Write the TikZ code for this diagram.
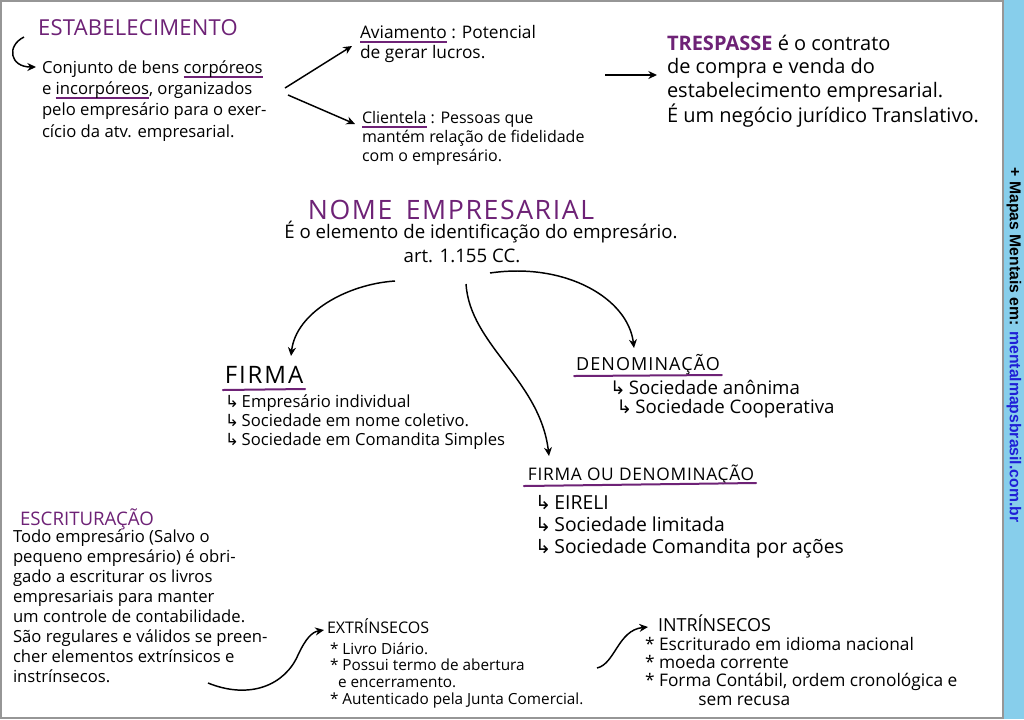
\documentclass[tikz,border=0pt]{standalone}
\usepackage{fontspec}
\setmainfont{Open Sans}
\newfontfamily\symf{DejaVu Sans}
\newfontfamily\sidef{Liberation Sans}
\usetikzlibrary{arrows.meta,calc}
\definecolor{purp}{RGB}{110,34,118}
\definecolor{strip}{RGB}{135,206,235}
\definecolor{linkblue}{RGB}{30,30,215}
\definecolor{frame}{RGB}{150,150,150}
\newsavebox\pulbox
\newcommand\pul[1]{\sbox\pulbox{#1}\rlap{\textcolor{purp}{\rule[-3.5pt]{\wd\pulbox}{1.4pt}}}\usebox\pulbox}
\newcommand\arr{{\symf ↳}\,}
\newcommand\fs[2]{\fontsize{#1}{#2}\selectfont}
\begin{document}
\begin{tikzpicture}[x=0.75pt,y=-0.75pt,
  every node/.style={inner sep=0pt, outer sep=0pt},
  ttl/.style={text=purp, anchor=base},
  head/.style={text=black, anchor=base},
  body/.style={align=left, anchor=base west},
  conn/.style={draw=black, line width=1.1pt, -{Stealth[length=6.5pt,width=6pt]}},
  ul/.style={draw=purp, line width=1.5pt, line cap=round},
]
\useasboundingbox (0,0) rectangle (1024,719);
\fill[white] (0,0) rectangle (1024,719);
\fill[strip] (1004,0) rectangle (1024,719);
\draw[frame, line width=1.5pt] (1003,0) -- (1003,719);
\draw[frame, line width=1.5pt] (0,1) -- (1003,1);
\draw[frame, line width=1.5pt] (1,0) -- (1,719);
\draw[frame, line width=1.5pt] (0,718) -- (1003,718);

\node[rotate=-90, font=\sidef\bfseries\fs{11.8}{14}] (side) at (1014,345)
  {+ Mapas Mentais em: \textcolor{linkblue}{mentalmapsbrasil.com.br}};

% ESTABELECIMENTO (multi-line nodes are anchored at the baseline of their last line)
\node[ttl, font={\fs{16.5}{20}\addfontfeatures{LetterSpace=1}}] (estab) at (138,35) {ESTABELECIMENTO};
\node[body, font=\fs{12.5}{16}] (estabtxt) at (42,137)
  {Conjunto de bens \pul{corpóreos}\\ e \pul{incorpóreos}, organizados\\pelo empresário para o exer-\\ cício da atv. empresarial.};
\coordinate (e0) at (24,37);
\draw[conn] (e0) .. controls (6,46) and (10,67) .. ($(estabtxt.base west)+(-6,-70)$);

\node[body, font=\fs{13}{15}] (avi) at (360,58) {\pul{Aviamento} : Potencial\\de gerar lucros.};
\node[body, font=\fs{12}{14.5}] (cli) at (362,161.7) {\pul{Clientela} : Pessoas que\\mantém relação de fidelidade\\com o empresário.};
\coordinate (b1) at (285,88);
\coordinate (b2) at (288,95);
\draw[conn] (b1) -- ($(avi.base west)+(-8,-12)$);
\draw[conn] (b2) -- ($(cli.base west)+(-7,-37.7)$);

\node[body, font=\fs{15}{17.5}] (tres) at (667,122)
  {{\bfseries\color{purp}TRESPASSE} é o contrato\\de compra e venda do\\estabelecimento empresarial.\\É um negócio jurídico Translativo.};
\coordinate (t0) at (605,75);
\draw[conn] (t0) -- ($(tres.base west)+(-10,-47)$);

% NOME EMPRESARIAL
\node[ttl, font={\fs{20}{24}\addfontfeatures{LetterSpace=6}}] (nome) at (451,219) {NOME\hspace{0.5em}EMPRESARIAL};
\node[anchor=base, font=\fs{14}{16}] (desc) at (481,238) {É o elemento de identificação do empresário.};
\node[anchor=base, font=\fs{14}{16}] (art) at (462,262) {art. 1.155 CC.};

% FIRMA
\node[head, font={\fs{18}{20}\addfontfeatures{LetterSpace=8}}] (firma) at (264,383) {FIRMA};
\draw[ul] ($(firma.base west)+(-2,7)$) -- ($(firma.base east)+(2,6)$);
\node[body, font=\fs{12.5}{14}] (firmatxt) at (225,445)
  {\arr Empresário individual\\\arr Sociedade em nome coletivo.\\\arr Sociedade em Comandita Simples};

% DENOMINACAO
\node[head, font={\fs{13.5}{16}\addfontfeatures{LetterSpace=6}}] (denom) at (648,370) {DENOMINAÇÃO};
\draw[ul] ($(denom.base west)+(-2,6)$) -- ($(denom.base east)+(2,5)$);
\node[body, font=\fs{14}{14.25}] (denomtxt) at (610,413)
  {\arr Sociedade anônima\\\hspace*{5pt}\arr Sociedade Cooperativa};

% FIRMA OU DENOMINACAO
\node[head, font={\fs{13}{16}\addfontfeatures{LetterSpace=4}}] (fod) at (641,480) {FIRMA OU DENOMINAÇÃO};
\draw[ul] ($(fod.base west)+(-4,6)$) -- ($(fod.base east)+(2,3)$);
\node[body, font=\fs{14.5}{16.5}] (fodtxt) at (535,553)
  {\arr EIRELI\\\arr Sociedade limitada\\\arr Sociedade Comandita por ações};

% curves from NOME
\coordinate (n1) at (395,281);
\coordinate (n2) at (490,273);
\coordinate (n3) at (466,284);
\draw[conn] (n1) .. controls (348,284) and (296,312) .. ($(firma.base)+(27,-27)$);
\draw[conn] (n2) .. controls (565,262) and (628,298) .. ($(denom.base)+(-14,-22)$);
\draw[conn] (n3) .. controls (470,345) and (540,380) .. ($(fod.base)+(-92,-24)$);

% ESCRITURACAO
\node[ttl, font=\fs{14}{16}] (escr) at (87,525) {ESCRITURAÇÃO};
\node[body, font=\fs{12.5}{15}] (escrtxt) at (13,682)
  {Todo empresário (Salvo o\\pequeno empresário) é obri-\\gado a escriturar os livros\\empresariais para manter\\um controle de contabilidade.\\São regulares e válidos se preen-\\cher elementos extrínsicos e\\ instrínsecos.};

% EXTRINSECOS
\node[head, anchor=base west, font=\fs{12}{14}] (extr) at (327,633) {EXTRÍNSECOS};
\node[body, font=\fs{11.5}{12.5}] (extrtxt) at (330,704)
  {* Livro Diário.\\* Possui termo de abertura\\\hspace*{6pt}e encerramento.\\* Autenticado pela Junta Comercial.};
\coordinate (x0) at (208,683);
\draw[conn] (x0) .. controls (250,700) and (285,685) .. (298,655) .. controls (306,638) and (312,632) .. ($(extr.base west)+(-3,-3)$);

% INTRINSECOS
\node[head, anchor=base west, font=\fs{13.5}{15}] (intr) at (658,631) {INTRÍNSECOS};
\node[body, font=\fs{13}{13.75}] (intrtxt) at (645,705)
  {* Escriturado em idioma nacional\\* moeda corrente\\* Forma Contábil, ordem cronológica e\\\hspace*{40pt}sem recusa};
\coordinate (i0) at (597,668);
\draw[conn] (i0) .. controls (615,664) and (618,630) .. ($(intr.base west)+(-10,-4)$);
\end{tikzpicture}
\end{document}
